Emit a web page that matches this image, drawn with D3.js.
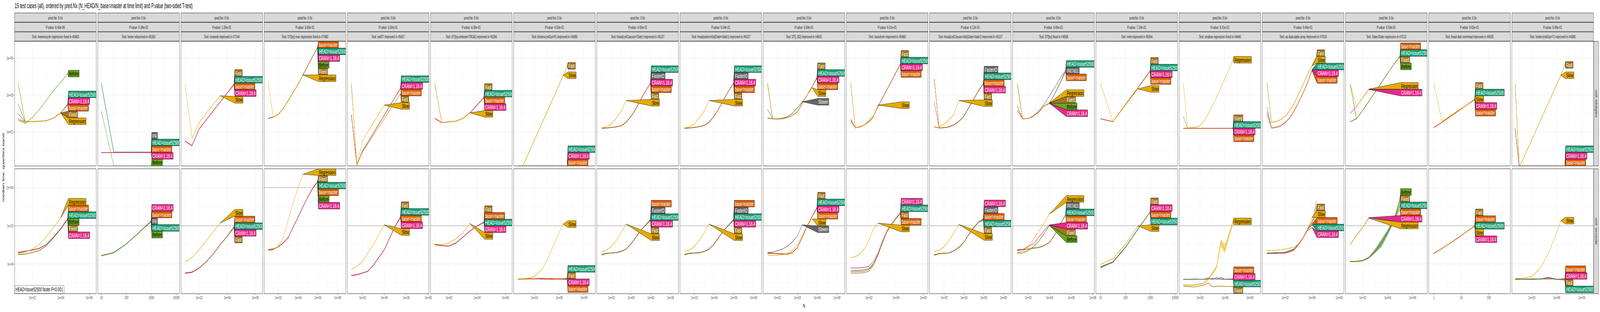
<!DOCTYPE html>
<html>
<head>
<meta charset="utf-8">
<script src="https://cdn.jsdelivr.net/npm/d3@7"></script>
<style>
  html, body { margin: 0; padding: 0; background: #fff; overflow: hidden; }
  svg { display: block; }
  svg text { font-family: "Liberation Sans", Arial, sans-serif; }
</style>
</head>
<body>
<svg id="svg" viewBox="0 0 7600 800" preserveAspectRatio="none"></svg>
<script>
// ---- values (N and medians are log10 exponents) ----
const Z = -Infinity; // zero kilobytes, ggplot puts it on the panel floor
const H = "HEAD=issue52500", B = "base=master", C = "CRAN=1.18.4";

const title = "19 test cases (all), ordered by pred.Nx (N_HEAD/N_base=master at time limit) and P.value (two-sided T-test)";
const testNames = [
  "memrecycle regression fixed in #5463", "fwrite refactored in #6393", "isoweek improved in #7144",
  "DT[by] max regression fixed in #7480", "setDT improved in #5427", "DT[by,verbose=TRUE] improved in #6296",
  "forderv(retGrp=F) improved in #4386", "fread(colClasses='Date') improved in #6107",
  "fread(select=list(Date='date')) improved in #6107", "DT[,.SD] improved in #4501", "transform improved in #5493",
  "fread(colClasses=list(Date='date')) improved in #6107", "DT[by] fixed in #4558", "melt improved in #5054",
  "shallow regression fixed in #4440", "as.data.table.array improved in #7019", "Date-IDate regression in #7213",
  "fread disk overhead improved in #6925", "forderv(retGrp=T) improved in #4386"
];
const pValues = [8.43e-06, 6.38e-02, 1.26e-01, 3.65e-01, 3.90e-01, 4.35e-01, 4.53e-01, 4.55e-01, 5.04e-01, 5.68e-01,
  6.01e-01, 6.12e-01, 6.66e-01, 7.19e-01, 8.21e-01, 9.45e-01, 9.53e-01, 9.63e-01, 9.95e-01];
const predNx = [0, 0, 0, 0, 0, 0, 0, 0, 0, 0, 0, 0, 0, 0, 0, 0, 0, 0, 0];
const unitNames = ["unit: kilobytes", "unit: seconds"];
const timeLimits = [-2, -2, -2, 0, -2, -2, -2, -2, -2, -2, -2, -2, -2, -2, -2, -2, -2, -2, -2];

const xLimits = [[0.75, 6.5], [0.857, 4.13], [0.71, 6.52], [0.58, 8.83], [0.63, 8.08], [0.70, 6.49], [0.49, 10.39],
  [0.52, 8.83], [0.55, 8.83], [0.56, 8.8], [0.52, 9.54], [0.53, 8.8], [0.58, 8.16], [0.815, 4.10], [0.48, 10.32],
  [0.48, 9.54], [0.62, 7.17], [-0.19, 2.79], [0.6, 10.42]];
const xTicks = [[2, 4, 6], [1, 2, 3, 4], [2, 4, 6], [2, 4, 6, 8], [2, 4, 6, 8], [2, 4, 6], [3, 6, 9], [2, 4, 6, 8],
  [2, 4, 6, 8], [2, 4, 6, 8], [3, 6, 9], [2, 4, 6, 8], [2, 4, 6, 8], [1, 2, 3, 4], [3, 6, 9], [3, 6, 9], [2, 4, 6],
  [0, 1, 2], [3, 6, 9]];
const plainX = [1, 13, 17];
const yLimitsKb = [-0.85, 5.91], yTicksKb = [1, 3, 5];
const yLimitsSec = [-5.56, 0.99], yTicksSec = [-4, -2, 0];
const noteText = "HEAD=issue52500 faster P<0.001";

const p01N = [1, 1.5, 2, 2.5, 3, 3.5, 4, 4.5];
const p01kb = [
  [H, [2.51, 1.54, 1.55, 1.57, 1.61, 1.75, 2.03, 2.51]],
  [C, [1.98, 1.54, 1.55, 1.57, 1.61, 1.75, 2.03, 2.49]],
  [B, [1.69, 1.54, 1.55, 1.57, 1.61, 1.75, 2.03, 2.47]],
  ["Fixed", [3.63, 1.54, 1.55, 1.57, 1.61, 1.75, 2.03, null]],
  ["Regression", [3.63, 1.54, 1.55, 1.57, 1.61, 1.75, 2.02, null]],
  ["Before", [1.62, 1.47, 1.77, 2.22, 2.73, 3.24, 3.70, 4.16]]];
const p01sec = [
  ["Before", [-3.51, -3.49, -3.40, -3.30, -3.03, -2.62, -2.17, -1.62]],
  ["Fixed", [-3.50, -3.48, -3.40, -3.30, -3.03, -2.62, -2.17, -1.63]],
  [B, [-3.41, -3.35, -3.28, -3.19, -2.97, -2.58, -2.14, -1.60]],
  [H, [-3.40, -3.34, -3.27, -3.18, -2.96, -2.58, -2.14, -1.61]],
  [C, [-3.38, -3.33, -3.26, -3.18, -2.98, -2.60, -2.17, -1.66]],
  ["Regression", [-3.47, -3.37, -3.23, -2.96, -2.55, -2.08, -1.58, null]]];

const p02N = [1, 1.5, 2, 2.5, 3];
const p02kb = [
  ["PR", [3.63, -0.10, -0.10, -0.10, -0.10]],
  [H, [3.60, -0.11, -0.11, -0.11, -0.11]],
  [B, [-0.12, -0.12, -0.12, -0.12, -0.12]],
  [C, [-0.13, -0.13, -0.13, -0.13, -0.13]],
  ["Before", [2.12, Z, Z, Z, Z]]];
const p02sec = [
  [C, [-3.56, -3.40, -2.95, -2.36, -1.74]],
  [B, [-3.56, -3.40, -2.95, -2.36, -1.75]],
  ["PR", [-3.56, -3.40, -2.95, -2.36, -1.76]],
  [H, [-3.57, -3.41, -2.96, -2.37, -1.77]],
  ["Before", [-3.58, -3.42, -2.96, -2.37, -1.78]]];

const p03N = [1, 1.5, 2, 2.5, 3, 3.5, 4, 4.5];
const p03kb = [
  ["Fast", [0.50, 0.25, 1.15, 1.64, 2.13, 2.62, 3.10, 3.62]],
  [H, [0.50, 0.25, 1.15, 1.64, 2.13, 2.62, 3.10, 3.60]],
  [B, [0.50, 0.25, 1.15, 1.64, 2.13, 2.62, 3.10, 3.58]],
  [C, [0.50, 0.25, 1.15, 1.64, 2.13, 2.62, 3.10, 3.56]],
  ["Slow", [3.59, 0.66, 1.50, 1.99, 2.48, 2.96, null, null]]];
const p03sec = [
  [B, [-4.48, -4.43, -4.21, -3.89, -3.49, -2.99, -2.54, -2.03]],
  [H, [-4.48, -4.43, -4.21, -3.89, -3.49, -2.99, -2.54, -2.05]],
  [C, [-4.47, -4.42, -4.21, -3.89, -3.49, -2.99, -2.55, -2.07]],
  ["Fast", [-4.50, -4.45, -4.22, -3.90, -3.50, -3.00, -2.56, -2.09]],
  ["Slow", [-3.89, -3.67, -3.26, -2.80, -2.33, -1.86, null, null]]];

const p04N = [1, 1.5, 2, 2.5, 3, 3.5, 4, 4.5, 5, 5.5, 6];
const p04kb = [
  [B, [1.73, 1.80, 1.94, 2.26, 2.68, 3.14, 3.56, 4.09, 4.60, 5.10, 5.62]],
  [H, [1.73, 1.80, 1.94, 2.26, 2.68, 3.14, 3.56, 4.09, 4.60, 5.10, 5.61]],
  [C, [1.73, 1.80, 1.94, 2.26, 2.68, 3.14, 3.56, 4.09, 4.60, 5.10, 5.60]],
  ["Before", [1.73, 1.80, 1.94, 2.26, 2.68, 3.14, 3.56, 4.09, 4.60, 5.10, 5.59]],
  ["Fixed", [1.73, 1.80, 1.94, 2.26, 2.68, 3.14, 3.56, 4.09, 4.60, 5.10, 5.58]],
  ["Regression", [3.63, 1.80, 1.94, 2.26, 2.68, 3.14, 3.56, 4.09, null, null, null]]];
const p04sec = [
  ["Fixed", [-3.26, -3.22, -3.10, -2.90, -2.63, -2.09, -1.55, -1.01, -0.47, -0.02, 0.36]],
  [H, [-3.26, -3.22, -3.10, -2.90, -2.63, -2.09, -1.55, -1.01, -0.47, -0.02, 0.35]],
  [B, [-3.25, -3.21, -3.10, -2.90, -2.63, -2.09, -1.55, -1.01, -0.47, -0.02, 0.34]],
  ["Before", [-3.28, -3.23, -3.11, -2.91, -2.64, -2.10, -1.56, -1.02, -0.48, -0.03, 0.33]],
  [C, [-3.27, -3.22, -3.10, -2.90, -2.63, -2.09, -1.56, -1.02, -0.48, -0.04, 0.30]],
  ["Regression", [-3.31, -3.26, -3.08, -2.63, -1.73, -0.83, -0.02, 0.70, null, null, null]]];

const p05N = [1, 1.5, 2, 2.5, 3, 3.5, 4, 4.5, 5, 5.5];
const p05kb = [
  [H, [1.94, -0.80, -0.06, 0.43, 0.92, 1.41, 1.90, 2.40, 2.89, 3.40]],
  [C, [1.94, -0.80, -0.06, 0.43, 0.92, 1.41, 1.90, 2.40, 2.89, 3.38]],
  [B, [1.94, -0.80, -0.06, 0.43, 0.92, 1.41, 1.90, 2.40, 2.89, 3.36]],
  ["Fast", [3.63, -0.80, -0.10, 0.35, 0.81, 1.26, 1.71, 2.17, 2.62, 3.07]],
  ["Slow", [3.63, -0.80, 0.45, 1.01, 1.47, 1.96, 2.45, null, null, null]]];
const p05sec = [
  ["Fast", [-4.61, -4.57, -4.48, -4.39, -4.07, -3.66, -3.26, -2.63, -2.00, -1.50]],
  [H, [-4.61, -4.57, -4.48, -4.39, -4.07, -3.66, -3.26, -2.63, -2.01, -1.53]],
  [B, [-4.62, -4.58, -4.48, -4.39, -4.07, -3.66, -3.26, -2.64, -2.02, -1.55]],
  [C, [-4.60, -4.56, -4.47, -4.38, -4.07, -3.67, -3.27, -2.65, -2.03, -1.58]],
  ["Slow", [-4.30, -4.12, -3.89, -3.44, -2.99, -2.47, -1.95, null, null, null]]];

const p06N = [1, 1.5, 2, 2.5, 3, 3.5, 4, 4.5];
const p06kb = [
  ["Fast", [3.63, 1.50, 1.54, 1.58, 1.73, 2.03, 2.45, 2.89]],
  [H, [1.73, 1.50, 1.54, 1.58, 1.73, 2.03, 2.45, 2.88]],
  [B, [1.73, 1.50, 1.54, 1.58, 1.73, 2.03, 2.45, 2.87]],
  [C, [1.73, 1.50, 1.54, 1.58, 1.73, 2.03, 2.45, 2.86]],
  ["Slow", [3.63, 1.50, 1.54, 1.58, 1.73, 2.03, null, null]]];
const p06sec = [
  ["Fast", [-2.99, -3.04, -3.06, -2.90, -2.59, -2.27, -2.00, -1.80]],
  [B, [-2.98, -3.03, -3.06, -2.90, -2.59, -2.27, -2.00, -1.81]],
  [H, [-3.00, -3.05, -3.07, -2.91, -2.60, -2.28, -2.01, -1.82]],
  [C, [-2.99, -3.04, -3.06, -2.90, -2.60, -2.28, -2.01, -1.83]],
  ["Slow", [-2.95, -2.99, -2.90, -2.68, -2.36, -1.88, null, null]]];

const p07N = [1, 2, 3, 4, 5, 6, 6.5, 7];
const p07kb = [
  ["Fast", [-1.45, -0.45, 0.55, 1.55, 2.55, 3.55, 4.07, 4.58]],
  ["Slow", [-1.45, -0.45, 0.55, 1.55, 2.55, 3.55, 4.07, null]],
  [H, [Z, Z, Z, Z, Z, Z, Z, Z]],
  [C, [Z, Z, Z, Z, Z, Z, Z, Z]],
  [B, [Z, Z, Z, Z, Z, Z, Z, Z]]];
const p07sec = [
  [H, [-4.79, -4.76, -4.78, -4.75, -4.79, -4.77, -4.78, -4.74]],
  ["Fast", [-4.80, -4.78, -4.77, -4.79, -4.76, -4.79, -4.78, -4.77]],
  [C, [-4.78, -4.79, -4.78, -4.77, -4.80, -4.78, -4.79, -4.80]],
  [B, [-4.81, -4.80, -4.79, -4.80, -4.81, -4.80, -4.81, -4.83]],
  ["Slow", [-4.79, -4.77, -4.66, -4.25, -3.35, -2.36, -1.91, null]]];

const p08N = [1, 1.5, 2, 2.5, 3, 3.5, 4, 4.5, 5, 5.5, 6];
const p08kb = [
  [H, [1.19, 1.21, 1.24, 1.27, 1.33, 1.52, 1.84, 2.26, 2.77, 3.24, 3.67]],
  ["FasterIO", [1.19, 1.21, 1.24, 1.27, 1.33, 1.52, 1.84, 2.26, 2.77, 3.24, 3.66]],
  [C, [1.19, 1.21, 1.24, 1.27, 1.33, 1.52, 1.84, 2.26, 2.77, 3.24, 3.65]],
  [B, [1.19, 1.21, 1.24, 1.27, 1.33, 1.52, 1.84, 2.26, 2.77, 3.24, 3.64]],
  ["Fast", [1.19, 1.21, 1.24, 1.27, 1.33, 1.52, 1.84, 2.26, 2.77, 3.24, 3.63]],
  ["Slow", [1.22, 1.27, 1.43, 1.75, 2.12, 2.70, null, null, null, null, null]]];
const p08sec = [
  [B, [-3.51, -3.44, -3.42, -3.40, -3.33, -3.22, -2.95, -2.59, -2.23, -1.95, -1.64]],
  ["FasterIO", [-3.52, -3.45, -3.42, -3.40, -3.33, -3.22, -2.95, -2.59, -2.23, -1.95, -1.66]],
  [H, [-3.50, -3.44, -3.42, -3.40, -3.33, -3.22, -2.95, -2.59, -2.23, -1.96, -1.68]],
  [C, [-3.53, -3.46, -3.43, -3.41, -3.34, -3.23, -2.96, -2.60, -2.24, -1.96, -1.70]],
  ["Fast", [-3.52, -3.45, -3.43, -3.41, -3.34, -3.23, -2.96, -2.60, -2.24, -1.97, -1.72]],
  ["Slow", [-3.35, -3.28, -3.08, -2.77, -2.36, -1.91, null, null, null, null, null]]];

const p09N = [1, 1.5, 2, 2.5, 3, 3.5, 4, 4.5, 5, 5.5, 6];
const p09kb = [
  [H, [1.19, 1.21, 1.24, 1.28, 1.34, 1.52, 1.85, 2.27, 2.77, 3.24, 3.67]],
  ["FasterIO", [1.19, 1.21, 1.24, 1.28, 1.34, 1.52, 1.85, 2.27, 2.77, 3.24, 3.66]],
  [C, [1.19, 1.21, 1.24, 1.28, 1.34, 1.52, 1.85, 2.27, 2.77, 3.24, 3.65]],
  [B, [1.19, 1.21, 1.24, 1.28, 1.34, 1.52, 1.85, 2.27, 2.77, 3.24, 3.64]],
  ["Fast", [1.19, 1.21, 1.24, 1.28, 1.34, 1.52, 1.85, 2.27, 2.77, 3.24, 3.63]],
  ["Slow", [1.22, 1.27, 1.43, 1.75, 2.12, 2.70, null, null, null, null, null]]];
const p09sec = [
  [B, [-3.50, -3.44, -3.43, -3.41, -3.34, -3.22, -2.95, -2.59, -2.23, -1.95, -1.64]],
  ["FasterIO", [-3.52, -3.45, -3.43, -3.41, -3.34, -3.22, -2.95, -2.59, -2.23, -1.95, -1.66]],
  [H, [-3.50, -3.44, -3.43, -3.41, -3.34, -3.22, -2.95, -2.60, -2.23, -1.96, -1.68]],
  [C, [-3.53, -3.46, -3.44, -3.42, -3.35, -3.23, -2.96, -2.60, -2.24, -1.96, -1.70]],
  ["Fast", [-3.52, -3.45, -3.44, -3.42, -3.35, -3.23, -2.96, -2.60, -2.24, -1.97, -1.72]],
  ["Slow", [-3.34, -3.28, -3.09, -2.77, -2.36, -1.91, null, null, null, null, null]]];

const p10N = [1, 1.5, 2, 2.5, 3, 3.5, 4, 4.5, 5, 5.5, 6];
const p10kb = [
  ["Fast", [3.63, 1.71, 1.69, 1.71, 1.77, 1.89, 2.08, 2.55, 3.00, 3.45, 3.97]],
  [H, [2.22, 1.71, 1.69, 1.71, 1.77, 1.89, 2.08, 2.55, 3.00, 3.45, 3.95]],
  [C, [1.75, 1.71, 1.69, 1.71, 1.77, 1.89, 2.08, 2.55, 3.00, 3.45, 3.93]],
  [B, [1.75, 1.71, 1.69, 1.71, 1.77, 1.89, 2.08, 2.55, 3.00, 3.45, 3.91]],
  ["Slower", [3.63, 1.71, 1.71, 1.74, 1.82, 2.00, 2.30, 2.63, null, null, null]],
  ["Slow", [3.63, 1.69, 1.69, 1.71, 1.77, 1.89, 2.08, 2.60, 3.00, 3.39, null]]];
const p10sec = [
  ["Fast", [-3.45, -3.46, -3.47, -3.49, -3.50, -3.41, -3.16, -2.61, -2.01, -1.50, -1.02]],
  [H, [-3.44, -3.45, -3.46, -3.48, -3.49, -3.40, -3.15, -2.60, -2.00, -1.50, -1.04]],
  [C, [-3.43, -3.44, -3.45, -3.47, -3.48, -3.40, -3.15, -2.60, -2.00, -1.51, -1.06]],
  [B, [-3.44, -3.45, -3.46, -3.48, -3.49, -3.41, -3.16, -2.61, -2.01, -1.52, -1.08]],
  ["Slower", [-3.40, -3.38, -3.31, -3.22, -3.08, -2.85, -2.54, -1.95, null, null, null]],
  ["Slow", [-3.55, -3.55, -3.54, -3.52, -3.45, -3.30, -3.00, -2.50, -2.00, -1.64, null]]];

const p11N = [1, 1.5, 2, 2.5, 3, 3.5, 4, 4.5, 5, 5.5, 6, 6.5];
const p11kb = [
  ["Fast", [3.65, 1.22, 1.27, 1.38, 1.57, 1.84, 2.36, 2.82, 3.29, 3.75, 4.22, 4.70]],
  [H, [1.68, 1.22, 1.27, 1.38, 1.57, 1.84, 2.36, 2.82, 3.29, 3.75, 4.22, 4.69]],
  [C, [1.68, 1.22, 1.27, 1.38, 1.57, 1.84, 2.36, 2.82, 3.29, 3.75, 4.22, 4.68]],
  [B, [1.60, 1.22, 1.27, 1.38, 1.57, 1.84, 2.36, 2.82, 3.29, 3.75, 4.22, 4.67]],
  ["Slow", [3.65, 1.22, 1.29, 1.38, 1.52, 1.80, 2.45, null, null, null, null, null]]];
const p11sec = [
  [C, [-4.21, -4.21, -4.21, -4.18, -4.12, -3.89, -3.44, -2.80, -2.27, -1.91, -1.59, -1.30]],
  [H, [-4.34, -4.34, -4.34, -4.30, -4.25, -4.00, -3.50, -2.85, -2.30, -1.93, -1.61, -1.32]],
  ["Fast", [-4.48, -4.48, -4.48, -4.45, -4.39, -4.07, -3.58, -2.90, -2.33, -1.95, -1.63, -1.34]],
  [B, [-4.40, -4.40, -4.40, -4.37, -4.30, -4.03, -3.54, -2.88, -2.32, -1.94, -1.62, -1.36]],
  ["Slow", [-3.67, -3.62, -3.49, -3.22, -2.77, -2.18, -1.86, null, null, null, null, null]]];

const p12N = [1, 1.5, 2, 2.5, 3, 3.5, 4, 4.5, 5, 5.5, 6];
const p12kb = [
  ["FasterIO", [3.87, 1.21, 1.23, 1.27, 1.38, 1.57, 1.84, 2.31, 2.77, 3.24, 3.64]],
  [H, [1.27, 1.21, 1.23, 1.27, 1.38, 1.57, 1.84, 2.31, 2.77, 3.24, 3.63]],
  [B, [1.27, 1.21, 1.23, 1.27, 1.38, 1.57, 1.84, 2.31, 2.77, 3.24, 3.62]],
  [C, [2.63, 1.21, 1.23, 1.27, 1.38, 1.57, 1.84, 2.31, 2.77, 3.24, 3.61]],
  ["Fast", [3.87, 1.21, 1.23, 1.27, 1.38, 1.57, 1.84, 2.31, 2.77, 3.24, 3.60]],
  ["Slow", [3.87, 1.27, 1.43, 1.66, 1.94, 2.70, null, null, null, null, null]]];
const p12sec = [
  [C, [-3.53, -3.46, -3.44, -3.42, -3.31, -3.13, -2.86, -2.45, -2.09, -1.80, -1.62]],
  ["FasterIO", [-3.52, -3.45, -3.44, -3.42, -3.31, -3.13, -2.86, -2.45, -2.09, -1.80, -1.64]],
  [B, [-3.54, -3.46, -3.44, -3.42, -3.31, -3.13, -2.86, -2.46, -2.10, -1.81, -1.66]],
  [H, [-3.53, -3.47, -3.45, -3.43, -3.32, -3.14, -2.87, -2.46, -2.10, -1.81, -1.68]],
  ["Fast", [-3.55, -3.47, -3.45, -3.43, -3.32, -3.14, -2.87, -2.47, -2.11, -1.82, -1.70]],
  ["Slow", [-3.35, -3.28, -3.10, -2.77, -2.36, -1.93, null, null, null, null, null]]];

const p13N = [1, 1.5, 2, 2.5, 3, 3.5, 4, 4.5, 5, 5.5];
const p13kb = [
  [H, [2.40, 1.71, 1.72, 1.84, 2.08, 2.40, 2.57, 3.10, 3.70, 4.35]],
  ["PR7401", [3.63, 1.71, 1.72, 1.87, 2.12, 2.49, 2.96, 3.42, 3.93, 4.33]],
  [B, [2.17, 1.71, 1.72, 1.84, 2.08, 2.40, 2.57, 3.08, 3.65, 4.28]],
  ["Fixed", [3.63, 1.71, 1.72, 1.84, 2.08, 2.40, 2.56, null, null, null]],
  ["Before", [2.40, 1.71, 1.72, 1.84, 2.08, 2.40, 2.55, null, null, null]],
  [C, [2.17, 1.71, 1.72, 1.84, 2.08, 2.40, 2.54, null, null, null]],
  ["Regression", [3.63, 1.71, 1.72, 1.84, 2.08, 2.40, 2.57, null, null, null]]];
const p13sec = [
  ["PR7401", [-3.26, -3.24, -3.22, -3.17, -3.13, -3.04, -2.86, -2.45, -1.91, -1.40]],
  [H, [-3.28, -3.25, -3.22, -3.17, -3.13, -3.04, -2.86, -2.45, -1.91, -1.41]],
  [B, [-3.28, -3.26, -3.23, -3.18, -3.14, -3.05, -2.87, -2.46, -1.92, -1.43]],
  [C, [-3.31, -3.25, -3.08, -2.95, -2.60, -2.25, -1.95, null, null, null]],
  ["Fixed", [-3.44, -3.42, -3.30, -3.10, -2.80, -2.40, -1.97, null, null, null]],
  ["Before", [-3.44, -3.42, -3.30, -3.10, -2.80, -2.40, -1.99, null, null, null]],
  ["Regression", [-3.40, -3.35, -3.13, -2.72, -2.27, -1.85, -1.38, null, null, null]]];

const p14N = [1, 1.5, 2, 2.5, 3];
const p14kb = [
  ["Fast", [1.71, 1.55, 2.47, 3.38, 4.32]],
  [H, [1.71, 1.55, 2.47, 3.38, 4.31]],
  [C, [1.71, 1.55, 2.47, 3.38, 4.30]],
  [B, [1.71, 1.55, 2.47, 3.38, 4.29]],
  ["Slow", [3.63, 1.55, 2.44, 3.33, null]]];
const p14sec = [
  ["Fast", [-4.15, -3.88, -3.12, -2.17, -1.26]],
  [C, [-4.20, -3.92, -3.15, -2.20, -1.27]],
  [B, [-4.16, -3.89, -3.13, -2.18, -1.28]],
  [H, [-4.17, -3.90, -3.14, -2.19, -1.29]],
  ["Slow", [-4.03, -3.71, -2.99, -2.00, null]]];

const p15N = [1, 1.5, 2, 2.5, 3, 3.5, 4, 4.5, 5, 5.5, 6, 6.5, 7];
const p15kb = [
  ["Fixed", [1.83, 1.19, 1.19, 1.19, 1.19, 1.19, 1.19, 1.19, 1.19, 1.19, 1.19, 1.19, 1.21]],
  [H, [1.19, 1.19, 1.19, 1.19, 1.19, 1.19, 1.19, 1.19, 1.19, 1.19, 1.19, 1.19, 1.20]],
  [C, [1.19, 1.19, 1.19, 1.19, 1.19, 1.19, 1.19, 1.19, 1.19, 1.19, 1.19, 1.19, 1.19]],
  [B, [1.19, 1.19, 1.19, 1.19, 1.19, 1.19, 1.19, 1.19, 1.19, 1.19, 1.19, 1.19, 1.18]],
  ["Regression", [3.63, 1.22, 1.23, 1.26, 1.33, 1.60, 1.98, 2.42, 2.87, 3.38, 3.89, 4.40, 4.91]]];
const p15sec = [
  [B, [-4.80, -4.81, -4.80, -4.79, -4.80, -4.81, -4.79, -4.78, -4.80, -4.79, -4.80, -4.79, -4.78]],
  [C, [-4.81, -4.80, -4.81, -4.80, -4.81, -4.80, -4.81, -4.75, -4.80, -4.70, -4.81, -4.80, -4.80]],
  [H, [-4.82, -4.81, -4.82, -4.81, -4.80, -4.81, -4.72, -4.82, -4.72, -4.81, -4.81, -4.82, -4.82]],
  ["Fixed", [-5.18, -5.18, -5.20, -5.20, -5.15, -5.10, -5.00, -5.20, -5.16, -5.17, -5.18, -5.18, -5.18]],
  ["Regression", [-5.10, -5.12, -5.12, -5.10, -5.06, -5.00, -4.79, -4.50, -4.16, -2.86, -3.26, -2.50, -1.77]]];

const p16N = [1, 1.5, 2, 2.5, 3, 3.5, 4, 4.5, 5, 5.5, 6, 6.5];
const p16kb = [
  [H, [2.36, 1.21, 1.24, 1.33, 1.49, 1.75, 2.12, 2.59, 3.10, 3.65, 4.37, null]],
  [C, [2.12, 1.21, 1.24, 1.33, 1.49, 1.75, 2.12, 2.59, 3.10, 3.65, 4.35, null]],
  [B, [1.94, 1.21, 1.24, 1.33, 1.49, 1.75, 2.12, 2.59, 3.10, 3.65, 4.33, null]],
  ["Fast", [3.65, 1.52, 1.55, 1.66, 1.84, 2.12, 2.54, 3.05, 3.56, 4.12, 4.58, 5.09]],
  ["Slow", [3.65, 1.52, 1.55, 1.66, 1.84, 2.12, 2.54, 3.05, 3.56, 4.12, 4.58, null]]];
const p16sec = [
  ["Fast", [-3.44, -3.44, -3.43, -3.42, -3.40, -3.33, -3.25, -2.95, -2.63, -2.18, -1.80, -1.19]],
  [B, [-3.44, -3.44, -3.44, -3.42, -3.40, -3.33, -3.25, -2.95, -2.63, -2.18, -1.91, null]],
  [H, [-3.42, -3.42, -3.40, -3.40, -3.38, -3.30, -3.22, -2.95, -2.63, -2.20, -1.95, null]],
  [C, [-3.46, -3.46, -3.46, -3.44, -3.44, -3.38, -3.28, -3.00, -2.66, -2.25, -2.09, null]],
  ["Slow", [-3.31, -3.30, -3.28, -3.25, -3.22, -3.17, -3.13, -2.95, -2.63, -2.18, -1.55, null]]];

const p17N = [1, 1.5, 2, 2.5, 3, 3.5, 4, 4.5, 5];
const p17kb = [
  [B, [1.55, 1.71, 2.16, 2.66, 3.16, 3.67, 4.17, 4.67, 5.11]],
  [H, [1.55, 1.71, 2.16, 2.66, 3.16, 3.67, 4.17, 4.67, 5.10]],
  ["Fixed", [3.61, 1.71, 2.16, 2.66, 3.16, 3.67, 4.17, 4.67, 5.09]],
  ["Before", [3.61, 1.71, 2.16, 2.66, 3.16, 3.67, 4.17, 4.67, 5.08]],
  [C, [2.00, 2.38, 2.85, 3.30, null, null, null, null, null]],
  ["Regression", [3.61, 2.38, 2.85, 3.32, null, null, null, null, null]]];
const p17sec = [
  ["Before", [-3.87, -3.87, -3.83, -3.67, -3.35, -2.90, -2.36, -1.73, -0.60]],
  ["Fixed", [-3.89, -3.88, -3.84, -3.68, -3.36, -2.92, -2.38, -1.76, -0.75]],
  [H, [-3.87, -3.86, -3.82, -3.66, -3.32, -2.88, -2.34, -1.72, -0.95]],
  [B, [-3.88, -3.87, -3.83, -3.67, -3.34, -2.89, -2.36, -1.74, -1.15]],
  [C, [-2.99, -2.50, -2.09, -1.57, null, null, null, null, null]],
  ["Regression", [-3.00, -2.51, -2.10, -1.60, null, null, null, null, null]]];

const p18N = [0, 0.3, 0.6, 0.9, 1.2, 1.5];
const p18kb = [
  ["Fast", [1.24, 1.52, 1.83, 2.14, 2.46, 2.79]],
  [H, [1.24, 1.52, 1.83, 2.14, 2.46, 2.78]],
  [C, [1.24, 1.52, 1.83, 2.14, 2.46, 2.76]],
  [B, [1.24, 1.52, 1.83, 2.14, 2.46, 2.75]],
  ["Slow", [3.63, 1.57, 1.87, 2.17, 2.46, 2.77]]];
const p18sec = [
  ["Fast", [-3.44, -3.18, -2.90, -2.60, -2.30, -1.98]],
  [B, [-3.45, -3.19, -2.90, -2.61, -2.30, -1.99]],
  [H, [-3.44, -3.18, -2.91, -2.61, -2.31, -2.00]],
  [C, [-3.46, -3.19, -2.91, -2.62, -2.31, -2.02]],
  ["Slow", [-3.43, -3.17, -2.90, -2.60, -2.30, -2.01]]];

const p19N = [1, 1.5, 2, 3, 4, 5, 6, 6.5, 7];
const p19kb = [
  ["Fast", [3.63, -0.93, -0.43, 0.57, 1.57, 2.57, 3.57, 4.07, 4.63]],
  ["Slow", [3.63, -0.93, -0.43, 0.57, 1.57, 2.57, 3.57, 4.07, null]],
  [H, [1.19, Z, Z, Z, Z, Z, Z, Z, Z]],
  [C, [1.19, Z, Z, Z, Z, Z, Z, Z, Z]],
  [B, [1.19, Z, Z, Z, Z, Z, Z, Z, Z]]];
const p19sec = [
  [B, [-4.79, -4.80, -4.79, -4.78, -4.80, -4.79, -4.80, -4.79, -4.76]],
  [C, [-4.80, -4.79, -4.80, -4.80, -4.79, -4.70, -4.80, -4.80, -4.79]],
  ["Fast", [-4.81, -4.80, -4.81, -4.80, -4.78, -4.75, -4.81, -4.80, -4.82]],
  [H, [-4.82, -4.82, -4.81, -4.82, -4.80, -4.74, -4.82, -4.83, -4.85]],
  ["Slow", [-4.75, -4.75, -4.75, -4.66, -4.25, -3.44, -2.36, -1.73, null]]];

// quartile bands that are wide enough to see: [panel, row, series, q25, q75]
const bands = [
  [14, "sec", "Regression",
    [-5.14, -5.15, -5.15, -5.13, -5.09, -5.03, -4.83, -4.56, -4.25, -3.10, -3.45, -2.65, -1.90],
    [-5.06, -5.08, -5.08, -5.06, -5.02, -4.96, -4.74, -4.42, -4.05, -2.70, -2.95, -2.35, -1.62]],
  [15, "sec", "Fast",
    [-3.46, -3.46, -3.45, -3.44, -3.42, -3.35, -3.27, -2.98, -2.66, -2.22, -1.86, -1.55],
    [-3.42, -3.42, -3.41, -3.40, -3.38, -3.31, -3.23, -2.92, -2.60, -2.14, -1.72, -0.60]],
  [16, "sec", "Before",
    [-3.90, -3.90, -3.86, -3.72, -3.45, -3.10, -2.50, -1.85, -0.75],
    [-3.84, -3.84, -3.80, -3.62, -3.25, -2.72, -2.22, -1.60, -0.45]],
  [16, "sec", H,
    [-3.89, -3.88, -3.85, -3.70, -3.40, -3.13, -2.50, -1.80, -1.05],
    [-3.85, -3.84, -3.79, -3.62, -3.20, -2.72, -2.20, -1.62, -0.85]]
];

// ---- drawing ----
const colors = {
  "HEAD=issue52500": "#1B9E77", "base=master": "#D95F02", "CRAN=1.18.4": "#E7298A",
  "Before": "#66A61E", "Regression": "#E6AB02", "Fixed": "#A6761D", "Slow": "#E6AB02", "Fast": "#A6761D",
  "PR": "#666666", "FasterIO": "#666666", "PR7401": "#666666", "Slower": "#666666"
};
const darkText = new Set(["Before", "Regression", "Slow"]);

const panels = [
  {N: p01N, kb: p01kb, sec: p01sec}, {N: p02N, kb: p02kb, sec: p02sec}, {N: p03N, kb: p03kb, sec: p03sec},
  {N: p04N, kb: p04kb, sec: p04sec}, {N: p05N, kb: p05kb, sec: p05sec}, {N: p06N, kb: p06kb, sec: p06sec},
  {N: p07N, kb: p07kb, sec: p07sec}, {N: p08N, kb: p08kb, sec: p08sec}, {N: p09N, kb: p09kb, sec: p09sec},
  {N: p10N, kb: p10kb, sec: p10sec}, {N: p11N, kb: p11kb, sec: p11sec}, {N: p12N, kb: p12kb, sec: p12sec},
  {N: p13N, kb: p13kb, sec: p13sec}, {N: p14N, kb: p14kb, sec: p14sec}, {N: p15N, kb: p15kb, sec: p15sec},
  {N: p16N, kb: p16kb, sec: p16sec}, {N: p17N, kb: p17kb, sec: p17sec}, {N: p18N, kb: p18kb, sec: p18sec},
  {N: p19N, kb: p19kb, sec: p19sec}
];

// the drawing is laid out on a 7600x800 grid and stretched to whatever window it gets
const svg = d3.select("body").select("svg#svg")
  .style("width", window.innerWidth + "px")
  .style("height", window.innerHeight + "px");
const FONT = "Liberation Sans, Arial, sans-serif";
const L0 = 69.3, PW = 387.8, GX = 7.3;
const LABEL_H = 17.2;
const rows = [
  {key: "kb", y0: 106, y1: 425.5, lim: yLimitsKb, ticks: yTicksKb, strip: unitNames[0]},
  {key: "sec", y0: 432.8, y1: 753, lim: yLimitsSec, ticks: yTicksSec, strip: unitNames[1]}
];

var pad2 = n => String(Math.abs(n)).padStart(2, "0");
var fmtSci = e => "1e" + (e < 0 ? "-" : "+") + pad2(e);
var fmtPlain = e => String(Math.round(Math.pow(10, e)));
var fmtP = p => {
  let parts = p.toExponential(2).split("e");
  let n = +parts[1];
  return parts[0] + "e" + (n < 0 ? "-" : "+") + pad2(n);
};
var minorOf = function(majors, lim) {
  let step = majors[1] - majors[0], out = [];
  for (let v = majors[0] - step * 10 + step / 2; v <= lim[1]; v += step) {
    if (v >= lim[0]) out.push(v);
  }
  return out;
};

// pushes label boxes apart, each group centred on its targets and kept inside the panel
var stackLabels = function(items, h, lo, hi) {
  items.sort((a, b) => a.ty - b.ty);
  let groups = items.map(d => ({items: [d]}));
  let place = g => {
    let m = d3.mean(g.items, d => d.ty);
    let n = g.items.length;
    g.top = Math.max(lo, Math.min(hi - n * h, m - n * h / 2));
  };
  groups.forEach(place);
  let merged = true;
  while (merged) {
    merged = false;
    for (let k = 0; k < groups.length - 1; k++) {
      let a = groups[k], b = groups[k + 1];
      if (a.top + a.items.length * h > b.top + 0.01) {
        a.items = a.items.concat(b.items);
        place(a);
        groups.splice(k + 1, 1);
        merged = true;
        break;
      }
    }
  }
  groups.forEach(g => g.items.forEach((d, j) => d.cy = g.top + (j + 0.5) * h));
};

svg.append("rect").attr("width", 7600).attr("height", 800).attr("fill", "#fff");
svg.append("text")
  .attr("x", 70).attr("y", 21.5)
  .attr("font-size", 17.6).attr("fill", "#000")
  .text(title);

const defs = svg.append("defs");

panels.forEach(function(p, i) {
  let px0 = L0 + i * (PW + GX), px1 = px0 + PW;
  let x = d3.scaleLog().domain(xLimits[i].map(e => Math.pow(10, e))).range([px0, px1]);
  let fmtX = plainX.includes(i) ? fmtPlain : fmtSci;

  let strips = ["pred.Nx: " + predNx[i].toFixed(1) + "x", "P.value: " + fmtP(pValues[i]), "Test: " + testNames[i]];
  strips.forEach(function(t, k) {
    let sy = 33.3 + k * 24.3;
    svg.append("rect")
      .attr("x", px0).attr("y", sy).attr("width", PW).attr("height", 23.4)
      .attr("fill", "#D9D9D9").attr("stroke", "#333").attr("stroke-width", 1.07);
    svg.append("text")
      .attr("x", (px0 + px1) / 2).attr("y", sy + 11.9)
      .attr("text-anchor", "middle").attr("dominant-baseline", "central")
      .attr("font-size", 11.7).attr("fill", "#1A1A1A")
      .text(t);
  });

  rows.forEach(function(r, ri) {
    let y = d3.scaleLog().domain(r.lim.map(e => Math.pow(10, e))).range([r.y1, r.y0]);
    let yv = v => v === Z ? r.y1 : y(Math.pow(10, v));
    let g = svg.append("g");
    let cid = "clip-" + i + "-" + ri;
    defs.append("clipPath").attr("id", cid)
      .append("rect").attr("x", px0).attr("y", r.y0).attr("width", PW).attr("height", r.y1 - r.y0);

    g.append("rect").attr("x", px0).attr("y", r.y0).attr("width", PW).attr("height", r.y1 - r.y0).attr("fill", "#fff");

    // grid
    minorOf(xTicks[i], xLimits[i]).forEach(e => g.append("line")
      .attr("x1", x(Math.pow(10, e))).attr("x2", x(Math.pow(10, e))).attr("y1", r.y0).attr("y2", r.y1)
      .attr("stroke", "#EBEBEB").attr("stroke-width", 0.55));
    minorOf(r.ticks, r.lim).forEach(e => g.append("line")
      .attr("x1", px0).attr("x2", px1).attr("y1", yv(e)).attr("y2", yv(e))
      .attr("stroke", "#EBEBEB").attr("stroke-width", 0.55));
    xTicks[i].forEach(e => g.append("line")
      .attr("x1", x(Math.pow(10, e))).attr("x2", x(Math.pow(10, e))).attr("y1", r.y0).attr("y2", r.y1)
      .attr("stroke", "#EBEBEB").attr("stroke-width", 1.1));
    r.ticks.forEach(e => g.append("line")
      .attr("x1", px0).attr("x2", px1).attr("y1", yv(e)).attr("y2", yv(e))
      .attr("stroke", "#EBEBEB").attr("stroke-width", 1.1));

    if (r.key === "sec") {
      g.append("line")
        .attr("x1", px0).attr("x2", px1).attr("y1", yv(timeLimits[i])).attr("y2", yv(timeLimits[i]))
        .attr("stroke", "#BEBEBE").attr("stroke-width", 1.8);
    }

    let plot = g.append("g").attr("clip-path", "url(#" + cid + ")");
    let data = p[r.key];

    bands.filter(b => b[0] === i && b[1] === r.key).forEach(function(b) {
      let area = d3.area()
        .x((d, k) => x(Math.pow(10, p.N[k])))
        .y0((d, k) => yv(b[3][k]))
        .y1((d, k) => yv(b[4][k]));
      plot.append("path").datum(b[3]).attr("d", area)
        .attr("fill", colors[b[2]]).attr("opacity", 0.45);
    });

    let line = d3.line()
      .defined(d => d.v !== null)
      .x(d => x(Math.pow(10, d.n)))
      .y(d => yv(d.v));
    data.forEach(function(s) {
      let pts = s[1].map((v, k) => ({n: p.N[k], v: v}));
      plot.append("path").datum(pts).attr("d", line)
        .attr("fill", "none").attr("stroke", colors[s[0]]).attr("stroke-width", 1.5);
    });

    // direct labels at the end of each line
    let ends = data.map(function(s) {
      let k = s[1].length - 1;
      while (s[1][k] === null) k--;
      return {name: s[0], tx: x(Math.pow(10, p.N[k])), ty: yv(s[1][k])};
    });
    let lx = d3.max(ends, d => d.tx) + 3;
    stackLabels(ends, LABEL_H, r.y0, r.y1);
    let lab = g.append("g").attr("clip-path", "url(#" + cid + ")");
    ends.forEach(function(d) {
      let lg = lab.append("g");
      let poly = lg.append("path");
      let txt = lg.append("text")
        .attr("x", lx + 2.5).attr("y", d.cy + 0.5)
        .attr("dominant-baseline", "central")
        .attr("font-size", 15.5)
        .attr("fill", darkText.has(d.name) ? "#000" : "#fff")
        .text(d.name);
      let w = txt.node().getComputedTextLength() + 5;
      let top = d.cy - LABEL_H / 2, bot = d.cy + LABEL_H / 2;
      poly.attr("d", "M" + d.tx + "," + d.ty + "L" + lx + "," + top + "L" + (lx + w) + "," + top +
          "L" + (lx + w) + "," + bot + "L" + lx + "," + bot + "Z")
        .attr("fill", colors[d.name]).attr("stroke", "#000").attr("stroke-width", 0.9);
    });

    if (i === 0 && r.key === "sec") {
      let ng = g.append("g");
      let nt = ng.append("text")
        .attr("x", px0 + 5).attr("y", r.y1 - 10.5)
        .attr("dominant-baseline", "central")
        .attr("font-size", 14.7).attr("fill", "#000")
        .text(noteText);
      let nw = nt.node().getComputedTextLength() + 10;
      ng.insert("rect", "text")
        .attr("x", px0 + 0.6).attr("y", r.y1 - 21).attr("width", nw).attr("height", 20.4)
        .attr("rx", 3).attr("fill", "#fff").attr("stroke", "#333").attr("stroke-width", 0.8);
    }

    g.append("rect").attr("x", px0).attr("y", r.y0).attr("width", PW).attr("height", r.y1 - r.y0)
      .attr("fill", "none").attr("stroke", "#333").attr("stroke-width", 1.07);

    if (r.key === "sec") {
      let ax = svg.append("g")
        .attr("transform", "translate(0," + r.y1 + ")")
        .call(d3.axisBottom(x)
          .tickValues(xTicks[i].map(e => Math.pow(10, e)))
          .tickFormat(v => fmtX(Math.round(Math.log10(v))))
          .tickSize(3.7).tickPadding(2.4));
      ax.attr("font-family", FONT).attr("font-size", 11.7);
      ax.select(".domain").remove();
      ax.selectAll("line").attr("stroke", "#333").attr("stroke-width", 1.07);
      ax.selectAll("text").attr("fill", "#4D4D4D");
    }

    if (i === 0) {
      let ay = svg.append("g")
        .attr("transform", "translate(" + px0 + ",0)")
        .call(d3.axisLeft(y)
          .tickValues(r.ticks.map(e => Math.pow(10, e)))
          .tickFormat(v => fmtSci(Math.round(Math.log10(v))))
          .tickSize(3.7).tickPadding(2.4));
      ay.attr("font-family", FONT).attr("font-size", 11.7);
      ay.select(".domain").remove();
      ay.selectAll("line").attr("stroke", "#333").attr("stroke-width", 1.07);
      ay.selectAll("text").attr("fill", "#4D4D4D");
    }

    if (i === panels.length - 1) {
      let sx = px1 + 1.4;
      svg.append("rect").attr("x", sx).attr("y", r.y0).attr("width", 23).attr("height", r.y1 - r.y0)
        .attr("fill", "#D9D9D9").attr("stroke", "#333").attr("stroke-width", 1.07);
      svg.append("text")
        .attr("transform", "translate(" + (sx + 11.5) + "," + ((r.y0 + r.y1) / 2) + ") rotate(90)")
        .attr("text-anchor", "middle").attr("dominant-baseline", "central")
        .attr("font-size", 11.7).attr("fill", "#1A1A1A")
        .text(r.strip);
    }
  });
});

svg.append("text")
  .attr("transform", "translate(15," + ((rows[0].y0 + rows[1].y1) / 2) + ") rotate(-90)")
  .attr("text-anchor", "middle").attr("dominant-baseline", "central")
  .attr("font-size", 14.7).attr("fill", "#000")
  .text("median line, quartiles band");

svg.append("text")
  .attr("x", (L0 + L0 + 19 * PW + 18 * GX) / 2).attr("y", 789)
  .attr("text-anchor", "middle")
  .attr("font-size", 14.7).attr("fill", "#000")
  .text("N");
</script>
</body>
</html>
